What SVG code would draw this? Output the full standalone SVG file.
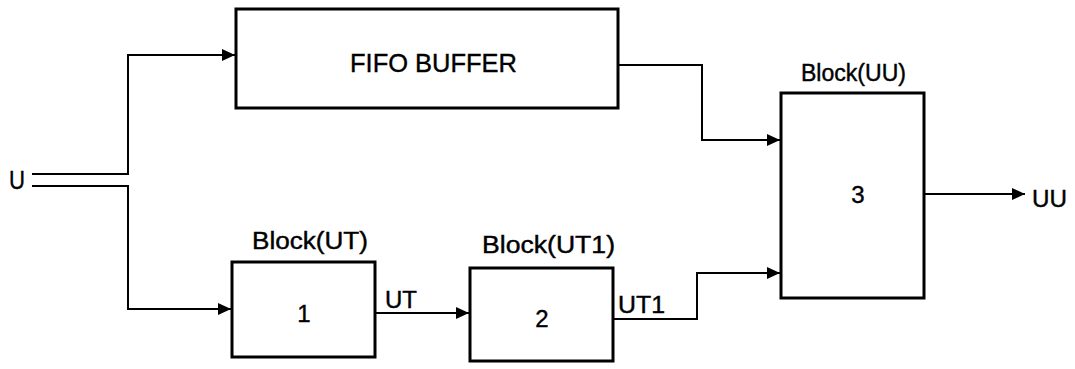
<svg xmlns="http://www.w3.org/2000/svg" width="1075" height="369" viewBox="0 0 1075 369">
<style>
.box{fill:#fff;stroke:#000;stroke-width:3}
.wire{fill:none;stroke:#000;stroke-width:2}
text{font-family:"Liberation Sans",Arial,sans-serif;fill:#000;stroke:#000;stroke-width:0.4}
.lbl{font-size:23px}
.big{font-size:26px}
.num{font-size:24px;text-anchor:middle}
</style>
<defs>
<marker id="arr" markerUnits="userSpaceOnUse" markerWidth="14" markerHeight="12" refX="13" refY="6" orient="auto">
<path d="M0,0 L13,6 L0,12 Z" fill="#000"/>
</marker>
</defs>
<rect width="1075" height="369" fill="#fff"/>
<g id="connectors">
<path class="wire" d="M32,174 H128 V55 H235" marker-end="url(#arr)"/>
<path class="wire" d="M32,186 H128 V309 H231" marker-end="url(#arr)"/>
<path class="wire" d="M375,313 H469" marker-end="url(#arr)"/>
<path class="wire" d="M613,319 H697 V273 H780" marker-end="url(#arr)"/>
<path class="wire" d="M618,65 H702 V140 H780" marker-end="url(#arr)"/>
<path class="wire" d="M924,194 H1025" marker-end="url(#arr)"/>
<text class="lbl" x="385" y="308" textLength="32" lengthAdjust="spacingAndGlyphs">UT</text>
<text class="lbl" x="618" y="313" textLength="47" lengthAdjust="spacingAndGlyphs">UT1</text>
</g>
<g id="input">
<text class="big" x="9" y="189" textLength="16" lengthAdjust="spacingAndGlyphs">U</text>
</g>
<g id="output">
<text class="lbl" x="1032" y="207" textLength="35" lengthAdjust="spacingAndGlyphs">UU</text>
</g>
<g id="fifo">
<rect class="box" x="236" y="9" width="382" height="99"/>
<text class="big" x="350" y="72" textLength="167" lengthAdjust="spacingAndGlyphs">FIFO BUFFER</text>
</g>
<g id="block1">
<rect class="box" x="232" y="262" width="143" height="95"/>
<text class="lbl" x="252" y="249" textLength="116" lengthAdjust="spacingAndGlyphs">Block(UT)</text>
<text class="num" x="304" y="322">1</text>
</g>
<g id="block2">
<rect class="box" x="470" y="268" width="143" height="93"/>
<text class="lbl" x="482" y="253" textLength="133" lengthAdjust="spacingAndGlyphs">Block(UT1)</text>
<text class="num" x="542" y="327">2</text>
</g>
<g id="block3">
<rect class="box" x="781" y="93" width="143" height="205"/>
<text class="lbl" x="801" y="81" textLength="105" lengthAdjust="spacingAndGlyphs">Block(UU)</text>
<text class="num" x="858" y="203">3</text>
</g>
</svg>
